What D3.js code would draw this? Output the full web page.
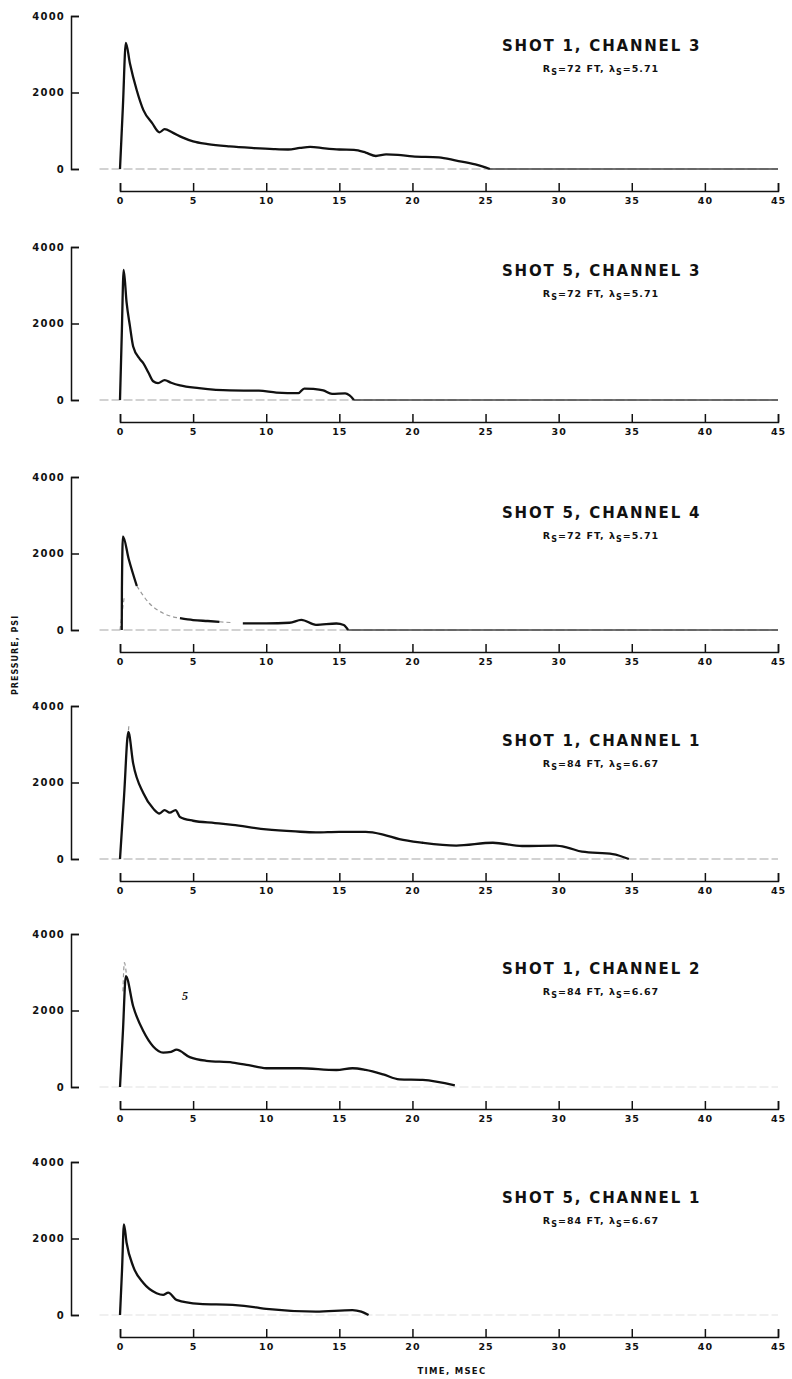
<!DOCTYPE html>
<html>
<head>
<meta charset="utf-8">
<script src="https://cdn.jsdelivr.net/npm/d3@7"></script>
<style>
body { margin: 0; background: #fff; }
svg text { font-family: "DejaVu Sans", sans-serif; font-weight: bold; fill: #111; }
</style>
</head>
<body>
<div id="main"></div>
<script>
// panel labels
var panelTitles = ["SHOT 1, CHANNEL 3", "SHOT 5, CHANNEL 3", "SHOT 5, CHANNEL 4",
                   "SHOT 1, CHANNEL 1", "SHOT 1, CHANNEL 2", "SHOT 5, CHANNEL 1"];
var rangeFt = ["72", "72", "72", "84", "84", "84"];
var lambdaS = ["5.71", "5.71", "5.71", "6.67", "6.67", "6.67"];

// axis ticks
var timeTicks = [0, 5, 10, 15, 20, 25, 30, 35, 40, 45];
var pressureTicks = [0, 2000, 4000];

// traces, [time msec, pressure psi]; null = gap in the record
var shot1ch3 = [[0,0],[0.2,1650],[0.4,3300],[0.68,2760],[1.14,2065],[1.6,1540],[2.2,1200],[2.7,960],[3.05,1040],
  [3.6,950],[4.3,820],[5,720],[6,650],[7.5,590],[9,550],[10.5,520],[11.5,510],[12.3,550],[13,580],
  [14,540],[15,510],[16,500],[16.8,430],[17.5,340],[18.2,380],[19,370],[20,330],[21.8,305],
  [23,220],[24.3,120],[25.3,0]];
var shot5ch3 = [[0,0],[0.12,1700],[0.25,3400],[0.45,2550],[0.68,1930],[0.9,1400],[1.36,1070],[1.6,960],
  [1.94,720],[2.27,490],[2.6,440],[3.05,520],[3.5,450],[4.1,380],[5.4,310],[7.5,250],[9.5,245],
  [10.7,195],[12.2,178],[12.6,300],[13.2,290],[13.9,250],[14.5,160],[15.4,175],[15.7,120],[16,0]];
var shot5ch4 = [[0.12,0],[0.13,1000],[0.2,2450],[0.6,1850],[1.15,1150],[null,null],
  [4.1,310],[5,260],[6,235],[6.8,215],[null,null],
  [8.4,175],[10,175],[11.6,190],[12.4,265],[13.4,135],[14.8,170],[15.3,130],[15.6,0]];
var shot5ch4Faint = [[0,0],[0.3,900],[null,null],[1.15,1150],[2,700],[3,430],[4.1,310],
  [null,null],[6.8,215],[7.6,195]];
var shot1ch1 = [[0,0],[0.28,1660],[0.57,3320],[0.9,2500],[1.6,1720],[2.27,1320],[2.7,1190],[3.05,1280],[3.4,1210],
  [3.8,1280],[4.1,1100],[5,1000],[6.5,940],[7.7,890],[10,775],[12,720],[13.4,695],[15,710],
  [16.8,710],[18,640],[19.1,520],[20.7,425],[23,350],[25.5,425],[27.5,340],[29.8,350],[30.6,300],
  [31.6,190],[33.7,130],[34.8,0]];
var shot1ch1Faint = [[0.5,3000],[0.62,3550]];
var shot1ch2 = [[0,0],[0.2,1450],[0.4,2900],[0.9,2110],[1.6,1455],[2.27,1060],[2.95,900],[3.5,920],[3.86,975],
  [4.77,780],[5.9,685],[7.7,640],[8.8,570],[10,490],[12.3,490],[14.8,445],[15.9,490],[16.8,445],
  [18,330],[19.1,200],[20.7,185],[22.9,40]];
var shot1ch2Faint = [[0.2,2500],[0.3,3250],[0.45,2900]];
var shot5ch1 = [[0,0],[0.14,1185],[0.27,2370],[0.45,1890],[0.9,1270],[1.6,835],[2.5,570],[2.95,525],[3.3,585],
  [3.86,395],[5.45,290],[7.7,263],[9.3,200],[10,158],[13.4,88],[15.9,130],[16.5,88],[17,0]];

var traces = [shot1ch3, shot5ch3, shot5ch4, shot1ch1, shot1ch2, shot5ch1];
var faintTraces = [null, null, shot5ch4Faint, shot1ch1Faint, shot1ch2Faint, null];
// the zero trace keeps running to the end of the sweep on the first three records
var zeroTail = [true, true, true, false, false, false];

// layout
var width = 792, height = 1379;
var panelZero = [169, 400, 630, 859, 1087, 1315];
var titleY = [51, 276, 518, 746, 974, 1203];
var plotH = 153;

var svg = d3.select("#main").append("svg")
    .attr("width", width)
    .attr("height", height);

var x = d3.scaleLinear().domain([0, 45]).range([120, 778]);

traces.forEach(function(trace, i) {
    var y0 = panelZero[i];
    var y = d3.scaleLinear().domain([0, 4000]).range([y0, y0 - plotH]);
    var g = svg.append("g");

    var line = d3.line()
        .defined(function(d) { return d[0] != null; })
        .x(function(d) { return x(d[0]); })
        .y(function(d) { return y(d[1]); })
        .curve(d3.curveMonotoneX);

    // zero reference line
    g.append("line")
        .attr("x1", x(-1.4)).attr("x2", x(45))
        .attr("y1", y(0)).attr("y2", y(0))
        .attr("stroke", i < 4 ? "#c4c4c4" : "#ececec")
        .attr("stroke-width", 1.5)
        .attr("stroke-dasharray", "9,3");

    if (zeroTail[i]) {
        var last = trace[trace.length - 1][0];
        g.append("line")
            .attr("x1", x(last)).attr("x2", x(45))
            .attr("y1", y(0)).attr("y2", y(0))
            .attr("stroke", "#444")
            .attr("stroke-width", 1.3);
    }

    // y axis (bracket style, ticks pointing in)
    g.append("g")
        .attr("transform", "translate(71,0)")
        .call(d3.axisLeft(y).tickValues(pressureTicks).tickFormat(d3.format("d"))
            .tickSizeInner(-8).tickSizeOuter(-8).tickPadding(6))
        .call(function(a) {
            a.select(".domain").attr("stroke", "#111").attr("stroke-width", 1.5);
            a.selectAll(".tick line").attr("stroke", "#111").attr("stroke-width", 1.5);
            a.selectAll("text").style("font-size", "10px").style("letter-spacing", "1.2px")
                .attr("font-family", null);
        });

    // x axis drawn below, ticks pointing up
    g.append("g")
        .attr("transform", "translate(0," + (y0 + 22) + ")")
        .call(d3.axisBottom(x).tickValues(timeTicks)
            .tickSizeInner(-8).tickSizeOuter(-8).tickPadding(6))
        .call(function(a) {
            a.select(".domain").attr("stroke", "#111").attr("stroke-width", 1.5);
            a.selectAll(".tick line").attr("stroke", "#111").attr("stroke-width", 1.5);
            a.selectAll("text").style("font-size", "9.5px").style("letter-spacing", "1px")
                .attr("font-family", null);
        });

    // faded parts of the record
    if (faintTraces[i]) {
        g.append("path")
            .datum(faintTraces[i])
            .attr("fill", "none")
            .attr("stroke", "#9a9a9a")
            .attr("stroke-width", 1.2)
            .attr("stroke-dasharray", "4,3")
            .attr("d", line);
    }

    g.append("path")
        .datum(trace)
        .attr("fill", "none")
        .attr("stroke", "#111")
        .attr("stroke-width", 2.3)
        .attr("stroke-linejoin", "round")
        .attr("d", line);

    // titles
    g.append("text")
        .attr("x", 502).attr("y", titleY[i])
        .style("font-size", "15px")
        .style("letter-spacing", "1.8px")
        .text(panelTitles[i]);

    var sub = g.append("text")
        .attr("x", 601).attr("y", titleY[i] + 21)
        .attr("text-anchor", "middle")
        .style("font-size", "9.5px")
        .style("letter-spacing", "1px");
    sub.append("tspan").text("R");
    sub.append("tspan").attr("dy", 3).style("font-size", "8px").text("S");
    sub.append("tspan").attr("dy", -3).text("=" + rangeFt[i] + " FT, λ");
    sub.append("tspan").attr("dy", 3).style("font-size", "8px").text("S");
    sub.append("tspan").attr("dy", -3).text("=" + lambdaS[i]);
});

// stray pencil mark on the channel 2 record
svg.append("text")
    .attr("x", 185).attr("y", 1000)
    .attr("text-anchor", "middle")
    .style("font-size", "12px")
    .style("font-style", "italic")
    .style("font-family", "Liberation Serif, serif")
    .text("5");

// shared axis titles
svg.append("text")
    .attr("transform", "translate(18,655) rotate(-90)")
    .attr("text-anchor", "middle")
    .style("font-size", "8px")
    .style("letter-spacing", "1px")
    .text("PRESSURE, PSI");

svg.append("text")
    .attr("x", 452).attr("y", 1374)
    .attr("text-anchor", "middle")
    .style("font-size", "8.5px")
    .style("letter-spacing", "1.3px")
    .text("TIME, MSEC");
</script>
</body>
</html>
